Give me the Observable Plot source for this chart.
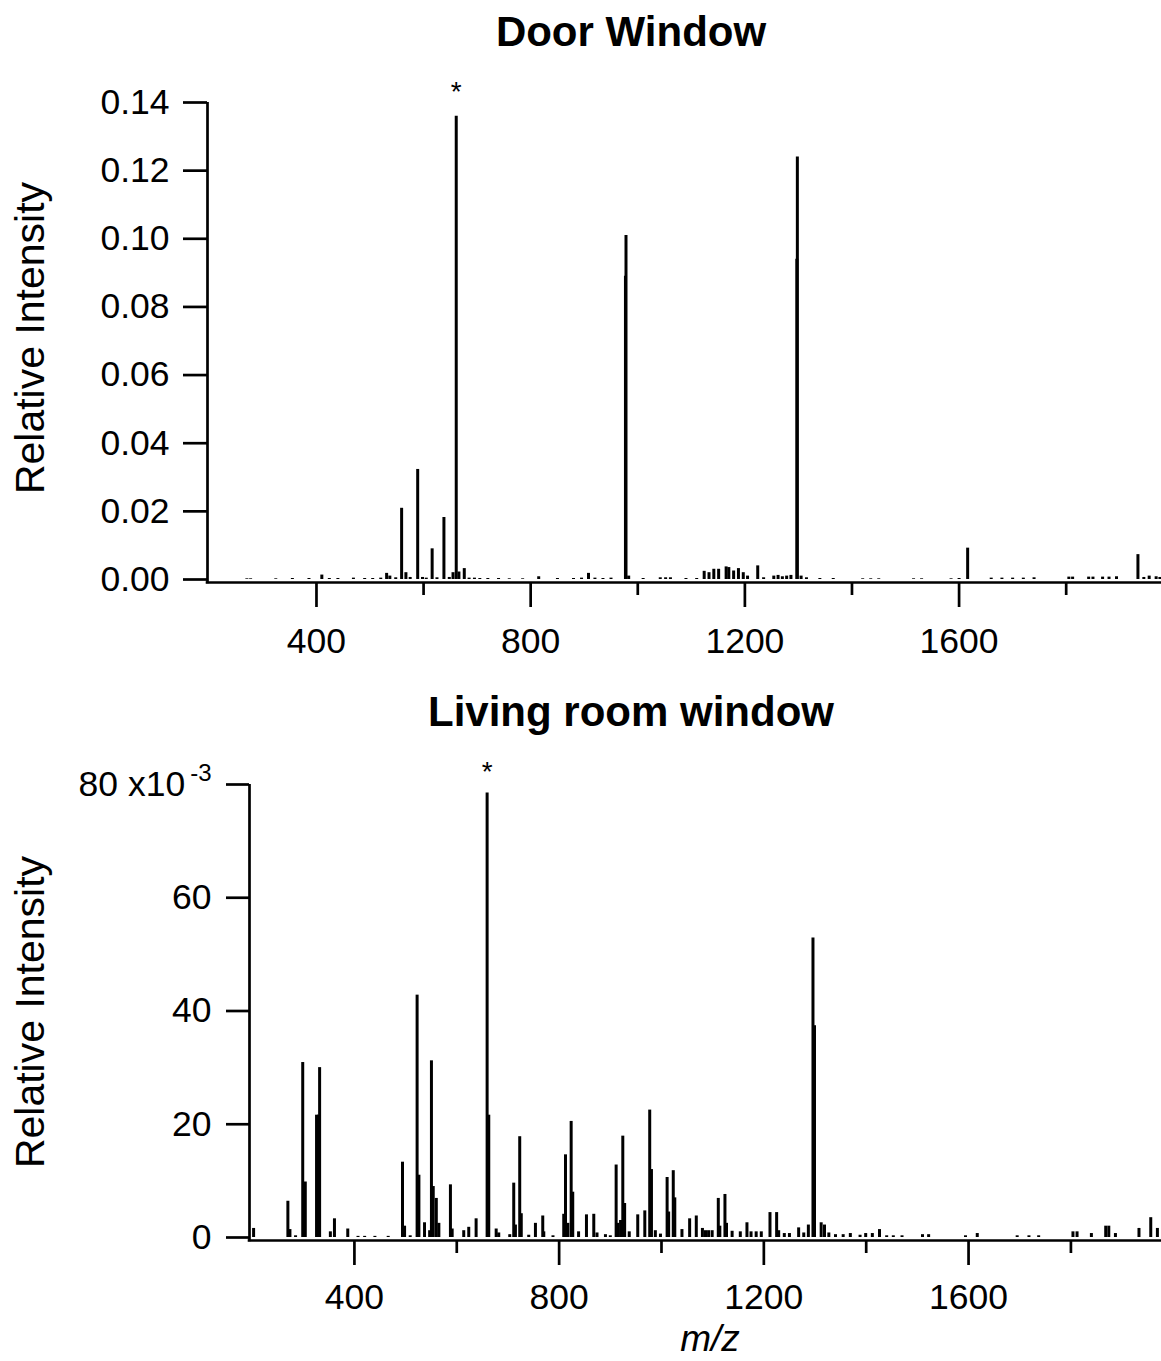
<!DOCTYPE html>
<html>
<head>
<meta charset="utf-8">
<script src="https://cdn.jsdelivr.net/npm/d3@7"></script>
<script src="https://cdn.jsdelivr.net/npm/@observablehq/plot@0.6"></script>
<style>
  body { margin: 0; background: #fff; }
  #wrap { position: relative; width: 1161px; height: 1361px; overflow: hidden;
          font-family: "Liberation Sans", Arial, sans-serif; color: #000; background: #fff; }
  .title { position: absolute; left: 631px; transform: translateX(-50%); font-weight: bold;
           font-size: 42px; line-height: 1; white-space: nowrap; }
  .ylab { position: absolute; font-size: 41px; line-height: 1; white-space: nowrap;
          transform: translate(-50%, -50%) rotate(-90deg); }
  .xlab { position: absolute; font-size: 37px; line-height: 1; font-style: italic;
          white-space: nowrap; transform: translateX(-50%); }
  #wrap svg { position: absolute; left: 0; }
</style>
</head>
<body>
<div id="wrap"></div>
<script>
// ---------- Data ----------
const doorTitle = "Door Window";
const livingTitle = "Living room window";
const yLabel = "Relative Intensity";
const xLabel = "m/z";

// Door Window: m/z and relative intensity
const doorMz = [270, 277, 324, 355, 386, 410, 424, 440, 469, 490, 505, 520, 531, 537, 548, 559, 567, 575,
  589, 598, 605, 616, 625, 638, 648, 655, 661, 666, 676, 685, 695, 705, 720, 740, 760, 785, 815, 850, 880,
  895, 908, 920, 935, 950, 977, 978, 983, 1010, 1042, 1052, 1061, 1090, 1110, 1124, 1133, 1142, 1151, 1165,
  1170, 1179, 1188, 1197, 1205, 1224, 1235, 1254, 1262, 1270, 1278, 1286, 1297, 1298, 1305, 1315, 1340,
  1365, 1420, 1435, 1450, 1515, 1530, 1585, 1600, 1616, 1660, 1680, 1700, 1720, 1740, 1805, 1812, 1842,
  1850, 1868, 1880, 1894, 1934, 1945, 1955, 1968, 1975];
const doorIntensity = [0.0002, 0.0002, 0.0002, 0.0003, 0.0003, 0.0013, 0.0003, 0.0003, 0.0004, 0.0003,
  0.0003, 0.0004, 0.0018, 0.0010, 0.0005, 0.0209, 0.0020, 0.0006, 0.0323, 0.0006, 0.0004, 0.0090, 0.0005,
  0.0182, 0.0006, 0.0020, 0.1360, 0.0022, 0.0032, 0.0004, 0.0004, 0.0003, 0.0003, 0.0003, 0.0002, 0.0002,
  0.0008, 0.0003, 0.0003, 0.0004, 0.0018, 0.0004, 0.0003, 0.0004, 0.0890, 0.1010, 0.0010, 0.0003, 0.0005,
  0.0005, 0.0005, 0.0003, 0.0003, 0.0024, 0.0020, 0.0030, 0.0030, 0.0037, 0.0035, 0.0025, 0.0032, 0.0020,
  0.0010, 0.0040, 0.0005, 0.0010, 0.0012, 0.0008, 0.0010, 0.0012, 0.0940, 0.1240, 0.0010, 0.0005, 0.0003,
  0.0003, 0.0002, 0.0002, 0.0002, 0.0002, 0.0002, 0.0002, 0.0003, 0.0092, 0.0004, 0.0004, 0.0004, 0.0004,
  0.0005, 0.0007, 0.0007, 0.0007, 0.0007, 0.0007, 0.0007, 0.0008, 0.0073, 0.0006, 0.0010, 0.0008, 0.0006];

// Living room window: m/z and relative intensity (x10^-3)
const livingMz = [203, 270, 274, 285, 299, 304, 326, 330, 332, 353, 361, 387, 407, 420, 440, 466, 494, 498,
  509, 522.5, 526, 537, 547, 550.5, 554, 560, 565, 587.6, 591, 613.6, 623.4, 637.8, 659.3, 662.5, 677, 682,
  703.5, 711.3, 714.6, 723, 726, 740.6, 753.7, 768, 770, 788, 809, 812.4, 817, 823.5, 826.6, 838, 853.4,
  867.7, 874, 890.5, 900, 911.4, 914.6, 920, 924.4, 928, 937, 953.6, 967.4, 977, 980.4, 988, 998, 1011,
  1014, 1023, 1026, 1040, 1055, 1068, 1080, 1086, 1092, 1099, 1111, 1114, 1124, 1127, 1138, 1154, 1167,
  1175, 1185, 1195, 1212, 1225, 1229, 1240, 1250, 1268, 1278, 1287, 1296, 1299, 1312, 1318.5, 1327, 1340,
  1355, 1369, 1388, 1399, 1412, 1426, 1440, 1453, 1470, 1510, 1522, 1594, 1617, 1695, 1718, 1737, 1804,
  1812, 1840, 1868, 1874, 1887, 1933, 1956, 1969];
const livingIntensity = [1.6, 6.4, 1.4, 0.3, 30.9, 9.8, 21.6, 21.6, 30.0, 1.0, 3.3, 1.5, 0.2, 0.2, 0.2, 0.2,
  13.3, 2.0, 0.3, 42.8, 11.0, 2.6, 1.2, 31.2, 9.0, 6.9, 2.5, 9.3, 1.5, 1.2, 1.8, 3.3, 78.5, 21.6, 1.5, 0.8,
  0.5, 9.6, 2.2, 17.8, 4.2, 0.4, 2.5, 3.8, 1.0, 0.3, 4.1, 14.6, 2.5, 20.5, 8.0, 1.0, 4.0, 4.1, 0.8, 0.5, 0.3,
  12.8, 2.5, 3.0, 17.9, 6.0, 1.0, 4.0, 4.7, 22.5, 12.0, 1.2, 0.6, 10.6, 4.5, 11.8, 7.0, 1.4, 3.3, 3.8, 1.6,
  1.2, 1.2, 1.2, 6.9, 2.0, 7.6, 2.5, 1.1, 1.0, 2.6, 1.0, 1.0, 1.0, 4.4, 4.4, 1.2, 0.7, 0.7, 1.7, 0.8, 2.2,
  52.9, 37.4, 2.6, 2.2, 0.8, 0.5, 0.5, 0.7, 0.4, 0.7, 0.7, 1.4, 0.3, 0.3, 0.3, 0.5, 0.5, 0.3, 0.7, 0.3, 0.3,
  0.3, 1.0, 1.0, 0.7, 2.0, 2.0, 0.7, 1.6, 3.5, 1.6];

// Axes
const doorXDomain = [196.5, 1978];
const livingXDomain = [195, 1977];
const doorYDomain = [0, 0.14];
const livingYDomain = [0, 80];
const doorYTicks = [0, 0.02, 0.04, 0.06, 0.08, 0.10, 0.12, 0.14];
const livingYTicks = [0, 20, 40, 60, 80];
const majorXTicks = [400, 800, 1200, 1600];
const minorXTicks = [600, 1000, 1400, 1800];
const livingTopTickLabel = "80 x10";
const livingExponent = "-3";
const starText = "*";

// ---------- Build ----------
const wrap = document.getElementById("wrap");
const FONT = '"Liberation Sans", Arial, sans-serif';

function panel({mz, vals, xDomain, yDomain, yTicks, yFormat, width, height, mL, mT, mB, yTickSize, yTickPad, xTickPad, starDy}) {
  const data = mz.map((m, i) => ({mz: m, v: vals[i]}));
  const star = [data[d3.maxIndex(data, d => d.v)]];
  return Plot.plot({
    width, height,
    marginLeft: mL, marginRight: 0, marginTop: mT, marginBottom: mB,
    style: {fontFamily: FONT, fontSize: "35.5px", color: "#000", background: "#fff", overflow: "visible"},
    x: {domain: xDomain},
    y: {domain: yDomain, insetBottom: 3},
    marks: [
      Plot.ruleX(data, {x: "mz", y: "v", stroke: "#000", strokeWidth: 3}),
      Plot.text(star, {x: "mz", y: "v", text: () => starText, dy: starDy, fontSize: 28, fill: "#000"}),
      Plot.ruleY([yDomain[0]], {dy: 3, stroke: "#000", strokeWidth: 2.7, insetLeft: -1.3}),
      Plot.ruleX([xDomain[0]], {stroke: "#000", strokeWidth: 2.7, insetBottom: -1.3}),
      Plot.axisY({ticks: yTicks, tickFormat: yFormat, tickSize: yTickSize, tickPadding: yTickPad,
                  strokeWidth: 2.7, label: null}),
      Plot.axisX({ticks: majorXTicks, tickFormat: d3.format("d"), tickSize: 25, tickPadding: xTickPad,
                  strokeWidth: 2.7, label: null}),
      Plot.axisX({ticks: minorXTicks, tickFormat: () => "", tickSize: 13, strokeWidth: 2.7, label: null})
    ]
  });
}

const p1 = panel({
  mz: doorMz, vals: doorIntensity, xDomain: doorXDomain, yDomain: doorYDomain, yTicks: doorYTicks,
  yFormat: d3.format(".2f"), width: 1161, height: 690, mL: 207, mT: 102, mB: 108,
  yTickSize: 24, yTickPad: 14, xTickPad: 20, starDy: -24
});
p1.style.top = "0px";

const p2 = panel({
  mz: livingMz, vals: livingIntensity, xDomain: livingXDomain, yDomain: livingYDomain, yTicks: livingYTicks,
  yFormat: d => d === 80 ? livingTopTickLabel : String(d), width: 1161, height: 671, mL: 249, mT: 94, mB: 121,
  yTickSize: 23, yTickPad: 15, xTickPad: 18, starDy: -21
});
p2.style.top = "690px";

// superscript exponent on the top tick label
d3.select(p2).selectAll("text").each(function () {
  if (this.textContent === livingTopTickLabel) {
    d3.select(this).append("tspan").attr("dy", "-0.6em").attr("dx", "5").attr("font-size", "24px").text(livingExponent);
  }
});

wrap.appendChild(p1);
wrap.appendChild(p2);

function addDiv(cls, text, styles) {
  const d = document.createElement("div");
  d.className = cls;
  d.textContent = text;
  Object.assign(d.style, styles);
  wrap.appendChild(d);
}
addDiv("title", doorTitle, {top: "11px"});
addDiv("title", livingTitle, {top: "691px"});
addDiv("ylab", yLabel, {left: "29.5px", top: "338px"});
addDiv("ylab", yLabel, {left: "29.5px", top: "1012px"});
addDiv("xlab", xLabel, {left: "710px", top: "1320px"});
</script>
</body>
</html>
